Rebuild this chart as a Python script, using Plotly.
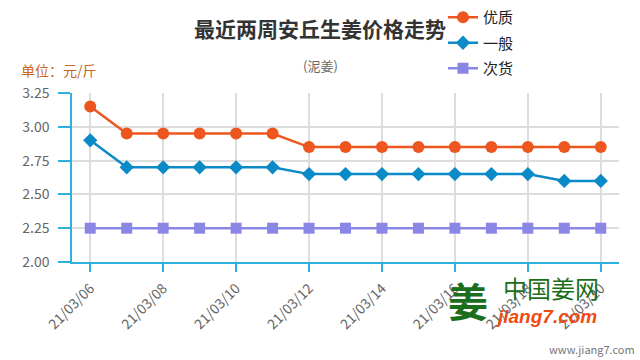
import plotly.graph_objects as go

dates = ["21/03/06", "21/03/07", "21/03/08", "21/03/09", "21/03/10", "21/03/11", "21/03/12",
         "21/03/13", "21/03/14", "21/03/15", "21/03/16", "21/03/17", "21/03/18", "21/03/19", "21/03/20"]
youzhi = [3.15, 2.95, 2.95, 2.95, 2.95, 2.95, 2.85, 2.85, 2.85, 2.85, 2.85, 2.85, 2.85, 2.85, 2.85]
yiban = [2.90, 2.70, 2.70, 2.70, 2.70, 2.70, 2.65, 2.65, 2.65, 2.65, 2.65, 2.65, 2.65, 2.60, 2.60]
cihuo = [2.25] * 15
y_ticks = [2.00, 2.25, 2.50, 2.75, 3.00, 3.25]
x_tickvals = dates[::2]

FONT = "Noto Sans CJK SC"
AXIS = "#2bb0e0"

fig = go.Figure()
fig.add_trace(go.Scatter(x=dates, y=youzhi, name="优质", mode="lines+markers",
                         line=dict(color="#ee561f", width=2.5),
                         marker=dict(symbol="circle", size=12, color="#ee561f"),
                         legendgroup="a"))
fig.add_trace(go.Scatter(x=dates, y=yiban, name="一般", mode="lines+markers",
                         line=dict(color="#0a8ac6", width=2.5),
                         marker=dict(symbol="diamond", size=11, color="#0a8ac6"),
                         legendgroup="b"))
fig.add_trace(go.Scatter(x=dates, y=cihuo, name="次货", mode="lines+markers",
                         line=dict(color="#8a86e6", width=2.5),
                         marker=dict(symbol="square", size=11, color="#8a86e6"),
                         legendgroup="c"))

fig.update_layout(
    width=640, height=360,
    margin=dict(l=72, r=21, t=93, b=98, autoexpand=False),
    plot_bgcolor="white", paper_bgcolor="white",
    font=dict(family=FONT, color="#555555", size=13),
    showlegend=True,
    legend=dict(x=443 / 640, y=1 - 1 / 360, xref="container", yref="container",
                xanchor="left", yanchor="top",
                font=dict(size=15, color="#222222", family=FONT),
                tracegroupgap=3, bgcolor="rgba(0,0,0,0)",
                itemwidth=30),
    xaxis=dict(type="category", range=[-0.5, 14.5], automargin=False,
               tickmode="array", tickvals=x_tickvals, ticktext=x_tickvals,
               tickangle=-45, showgrid=True, gridcolor="#dddddd", gridwidth=1.5,
               showline=True, linecolor=AXIS, linewidth=1.5,
               ticks="outside", tickcolor=AXIS, ticklen=8, tickwidth=1.5,
               ticklabelstandoff=3,
               tickfont=dict(size=14, color="#666666")),
    yaxis=dict(range=[2.0, 3.25], tickmode="array", tickvals=y_ticks, automargin=False,
               ticktext=[f"{v:.2f}" for v in y_ticks],
               showgrid=True, gridcolor="#dddddd", gridwidth=1.5,
               showline=True, linecolor=AXIS, linewidth=1.5, zeroline=False,
               ticks="outside", tickcolor=AXIS, ticklen=12, tickwidth=1.5,
               ticklabelstandoff=6,
               tickfont=dict(size=14, color="#666666")),
)

fig.add_annotation(text="<b>最近两周安丘生姜价格走势</b>", xref="paper", yref="paper",
                   x=(320 - 72) / 547, y=(262 - 28) / 169, xanchor="center", yanchor="middle",
                   showarrow=False, font=dict(size=21, color="#333333", family=FONT))
fig.add_annotation(text="(泥姜)", xref="paper", yref="paper",
                   x=(320 - 72) / 547, y=(262 - 65) / 169, xanchor="center", yanchor="middle",
                   showarrow=False, font=dict(size=13, color="#666666", family=FONT))
fig.add_annotation(text="单位：元/斤", xref="paper", yref="paper",
                   x=(19 - 72) / 547, y=(262 - 70) / 169, xanchor="left", yanchor="middle",
                   showarrow=False, font=dict(size=14, color="#c8661c", family=FONT))
# watermark logo (approximated with text)
fig.add_annotation(text="<b>姜</b>", xref="paper", yref="paper",
                   x=(468 - 72) / 547, y=(262 - 300) / 169, xanchor="center", yanchor="middle",
                   showarrow=False, font=dict(size=40, color="#1b6e1b", family=FONT))
fig.add_annotation(text="中国姜网", xref="paper", yref="paper",
                   x=(551 - 72) / 547, y=(262 - 287) / 169, xanchor="center", yanchor="middle",
                   showarrow=False, font=dict(size=24, color="#1b6e1b", family=FONT))
fig.add_annotation(text="<b><i>jiang7.com</i></b>", xref="paper", yref="paper",
                   x=(546 - 72) / 547, y=(262 - 316) / 169, xanchor="center", yanchor="middle",
                   showarrow=False, font=dict(size=19, color="#f04a12", family="Liberation Sans"))
fig.add_annotation(text="www.jiang7.com", xref="paper", yref="paper",
                   x=(637 - 72) / 547, y=(262 - 349) / 169, xanchor="right", yanchor="middle",
                   showarrow=False, font=dict(size=11, color="#777777", family=FONT))

fig.write_html("out.html", config={"displayModeBar": False},
               post_script="document.body.style.margin='0';")
